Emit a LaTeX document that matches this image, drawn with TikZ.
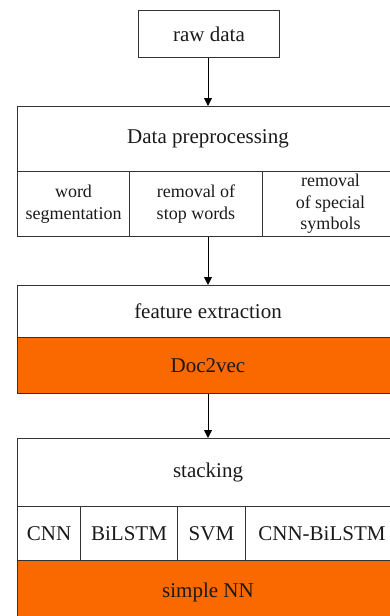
\documentclass[tikz,border=0pt]{standalone}
\usepackage{fontspec}
\setmainfont{Liberation Serif}
\newfontfamily\tnr{Liberation Serif}
\usetikzlibrary{arrows.meta}
\definecolor{orng}{HTML}{FA6800}
\definecolor{edgec}{HTML}{333333}
\definecolor{txtc}{HTML}{1A1A1A}
\begin{document}
\begin{tikzpicture}[x=1pt,y=-1pt,
  cell/.style={draw=edgec, line width=1pt, inner sep=0pt, align=center, anchor=north west,
    text=txtc, font=\tnr\fontsize{21}{25}\selectfont},
  small/.style={font=\tnr\fontsize{18}{21.5}\selectfont},
  hot/.style={fill=orng},
  arr/.style={draw=black, line width=1pt, -{Triangle[length=8pt,width=8pt]}}]
\useasboundingbox (0,0) rectangle (390,616);
\clip (0,0) rectangle (390,616);
\node[cell, minimum width=141pt, minimum height=47pt] (raw) at (138,10) {raw data};
\node[cell, minimum width=381pt, minimum height=65pt] (pre) at (17,106) {Data preprocessing};
\node[cell, small, minimum width=112pt, minimum height=65pt] (ws) at (17,171) {word\\segmentation};
\node[cell, small, minimum width=133pt, minimum height=65pt] (rs) at (129,171) {removal of\\stop words};
\node[cell, small, minimum width=136pt, minimum height=65pt] (rss) at (262,171) {removal\\of special\\symbols};
\node[cell, minimum width=381pt, minimum height=52pt] (fe) at (17,285) {feature extraction};
\node[cell, hot, minimum width=381pt, minimum height=56pt] (d2v) at (17,337) {Doc2vec};
\node[cell, minimum width=381pt, minimum height=68pt] (st) at (17,438) {stacking};
\node[cell, minimum width=63pt, minimum height=54pt] (cnn) at (17,506) {CNN};
\node[cell, minimum width=97pt, minimum height=54pt] (bil) at (80,506) {BiLSTM};
\node[cell, minimum width=68pt, minimum height=54pt] (svm) at (177,506) {SVM};
\node[cell, minimum width=153pt, minimum height=54pt] (cb) at (245,506) {CNN-BiLSTM};
\node[cell, hot, minimum width=381pt, minimum height=64pt] (nn) at (17,560) {simple NN};
\draw[arr] (raw.south -| pre.north) -- (pre.north);
\draw[arr] (rs.south -| pre.south) -- (fe.north);
\draw[arr] (d2v.south) -- (st.north);
\end{tikzpicture}
\end{document}
